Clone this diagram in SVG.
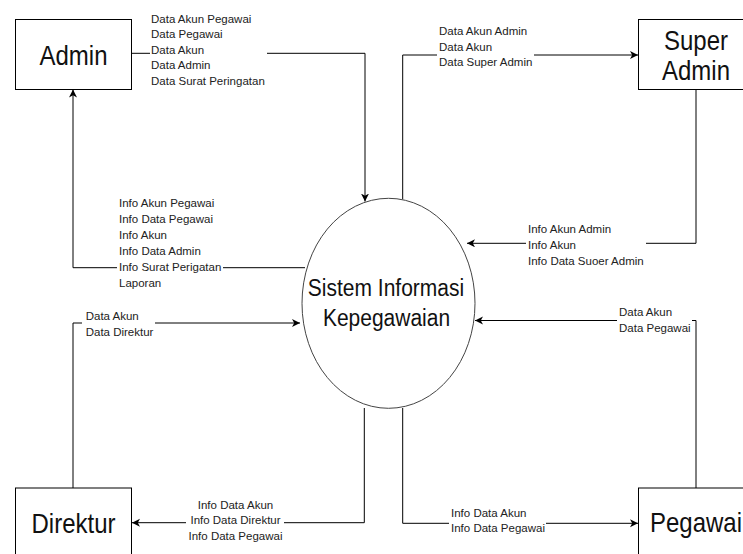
<svg xmlns="http://www.w3.org/2000/svg" width="743" height="554" viewBox="0 0 743 554">
<defs>
<marker id="arr" markerUnits="userSpaceOnUse" markerWidth="9" markerHeight="9" refX="8" refY="4" orient="auto">
<path d="M0,0 L8,4 L0,8 L2.2,4 z" fill="#000"/>
</marker>
<style>
.box{fill:#fff;stroke:#000;stroke-width:1}
.proc{fill:#fff;stroke:#444;stroke-width:1}
.big{font-family:"Liberation Sans",Arial,sans-serif;font-size:24px;fill:#111;text-anchor:middle}
.mid{font-family:"Liberation Sans",Arial,sans-serif;font-size:21px;fill:#111;text-anchor:middle}
.lbl{font-family:"Liberation Sans",Arial,sans-serif;font-size:11.5px;fill:#222}
.ctr{text-anchor:middle}
.edge{fill:none;stroke:#000;stroke-width:1}
.arrow{marker-end:url(#arr)}
</style>
</defs>
<rect width="743" height="554" fill="#fff"/>

<g id="connectors">
<path class="edge arrow" d="M131.5,53.3 H150 M267,53.3 H365 V201.5"/>
<path class="edge arrow" d="M305,267.7 H223 M117,267.7 H73 V89.5"/>
<path class="edge arrow" d="M402.7,199.4 V55 H437 M534,55 H638"/>
<path class="edge arrow" d="M696,89.5 V243.3 H646 M526,243.3 H467"/>
<path class="edge arrow" d="M696,488 V320.5 H692 M617,320.5 H475"/>
<path class="edge arrow" d="M73,488 V323 H82 M155,323 H300"/>
<path class="edge arrow" d="M364.3,408 V522.7 H284 M186,522.7 H132"/>
<path class="edge arrow" d="M402.7,408 V523.3 H449 M546,523.3 H638"/>

<g id="label-admin-out" class="lbl">
<text x="151" y="22.5">Data Akun Pegawai</text>
<text x="151" y="38">Data Pegawai</text>
<text x="151" y="53.6">Data Akun</text>
<text x="151" y="69.2">Data Admin</text>
<text x="151" y="84.8">Data Surat Peringatan</text>
</g>
<g id="label-admin-in" class="lbl">
<text x="119" y="206.5">Info Akun Pegawai</text>
<text x="119" y="222.5">Info Data Pegawai</text>
<text x="119" y="238.5">Info Akun</text>
<text x="119" y="254.5">Info Data Admin</text>
<text x="119" y="271">Info Surat Perigatan</text>
<text x="119" y="287">Laporan</text>
</g>
<g id="label-super-out" class="lbl">
<text x="439" y="35">Data Akun Admin</text>
<text x="439" y="50.7">Data Akun</text>
<text x="439" y="66">Data Super Admin</text>
</g>
<g id="label-super-in" class="lbl">
<text x="528" y="232.5">Info Akun Admin</text>
<text x="528" y="248.8">Info Akun</text>
<text x="528" y="265">Info Data Suoer Admin</text>
</g>
<g id="label-pegawai-in" class="lbl">
<text x="619" y="316.3">Data Akun</text>
<text x="619" y="331.5">Data Pegawai</text>
</g>
<g id="label-direktur-in" class="lbl">
<text x="85.7" y="319.5">Data Akun</text>
<text x="85.7" y="335.5">Data Direktur</text>
</g>
<g id="label-direktur-out" class="lbl ctr">
<text x="235.5" y="508.5">Info Data Akun</text>
<text x="235.5" y="524">Info Data Direktur</text>
<text x="235.5" y="539.5">Info Data Pegawai</text>
</g>
<g id="label-pegawai-out" class="lbl">
<text x="451" y="516.5">Info Data Akun</text>
<text x="451" y="532.2">Info Data Pegawai</text>
</g>
</g>

<g id="admin">
<rect class="box" x="15.5" y="19.5" width="116" height="70"/>
<text class="big" transform="translate(73.5,64.8) scale(1,1.15)">Admin</text>
</g>
<g id="super-admin">
<rect class="box" x="638.5" y="19.5" width="116" height="70"/>
<text class="big" transform="translate(696,49.5) scale(1,1.15)">Super</text>
<text class="big" transform="translate(696,79.5) scale(1,1.15)">Admin</text>
</g>
<g id="sistem">
<ellipse class="proc" cx="388.5" cy="303.3" rx="86.5" ry="105"/>
<text class="mid" transform="translate(386,295.5) scale(1,1.12)">Sistem Informasi</text>
<text class="mid" transform="translate(386.5,325.8) scale(1,1.12)">Kepegawaian</text>
</g>
<g id="direktur">
<rect class="box" x="15.5" y="488" width="116" height="70"/>
<text class="big" transform="translate(73.5,533) scale(1,1.15)">Direktur</text>
</g>
<g id="pegawai">
<rect class="box" x="638.5" y="488" width="116" height="70"/>
<text class="big" transform="translate(696,532) scale(1,1.15)">Pegawai</text>
</g>
</svg>
